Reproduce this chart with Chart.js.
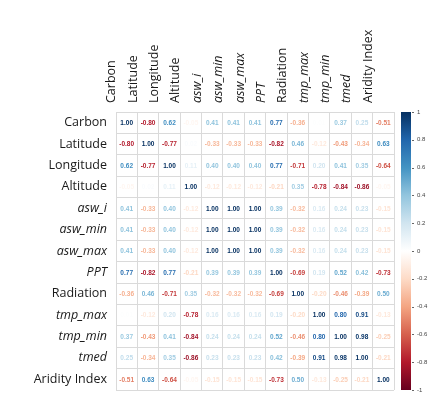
<!DOCTYPE html>
<html>
<head>
<meta charset="utf-8">
<script src="https://cdn.jsdelivr.net/npm/chart.js@4/dist/chart.umd.min.js"></script>
<style>
  body { margin: 0; background: #fff; }
  #wrap { width: 434px; height: 398px; }
</style>
</head>
<body>
<div id="wrap"><canvas id="corrChart" width="434" height="398"></canvas></div>
<script>
// variables (rows and columns of the matrix)
const variables = ['Carbon', 'Latitude', 'Longitude', 'Altitude', 'asw_i', 'asw_min', 'asw_max',
    'PPT', 'Radiation', 'tmp_max', 'tmp_min', 'tmed', 'Aridity Index'];
const italicVars = ['asw_i', 'asw_min', 'asw_max', 'PPT', 'tmp_max', 'tmp_min', 'tmed'];

// correlation rows
const carbon    = [1.00, -0.80, 0.62, -0.05, 0.41, 0.41, 0.41, 0.77, -0.36, 0.01, 0.37, 0.25, -0.51];
const latitude  = [-0.80, 1.00, -0.77, 0.02, -0.33, -0.33, -0.33, -0.82, 0.46, -0.12, -0.43, -0.34, 0.63];
const longitude = [0.62, -0.77, 1.00, 0.11, 0.40, 0.40, 0.40, 0.77, -0.71, 0.20, 0.41, 0.35, -0.64];
const altitude  = [-0.05, 0.02, 0.11, 1.00, -0.12, -0.12, -0.12, -0.21, 0.35, -0.78, -0.84, -0.86, -0.05];
const aswI      = [0.41, -0.33, 0.40, -0.12, 1.00, 1.00, 1.00, 0.39, -0.32, 0.16, 0.24, 0.23, -0.15];
const aswMin    = [0.41, -0.33, 0.40, -0.12, 1.00, 1.00, 1.00, 0.39, -0.32, 0.16, 0.24, 0.23, -0.15];
const aswMax    = [0.41, -0.33, 0.40, -0.12, 1.00, 1.00, 1.00, 0.39, -0.32, 0.16, 0.24, 0.23, -0.15];
const ppt       = [0.77, -0.82, 0.77, -0.21, 0.39, 0.39, 0.39, 1.00, -0.69, 0.19, 0.52, 0.42, -0.73];
const radiation = [-0.36, 0.46, -0.71, 0.35, -0.32, -0.32, -0.32, -0.69, 1.00, -0.20, -0.46, -0.39, 0.50];
const tmpMax    = [0.01, -0.12, 0.20, -0.78, 0.16, 0.16, 0.16, 0.19, -0.20, 1.00, 0.80, 0.91, -0.13];
const tmpMin    = [0.37, -0.43, 0.41, -0.84, 0.24, 0.24, 0.24, 0.52, -0.46, 0.80, 1.00, 0.98, -0.25];
const tmed      = [0.25, -0.34, 0.35, -0.86, 0.23, 0.23, 0.23, 0.42, -0.39, 0.91, 0.98, 1.00, -0.21];
const aridity   = [-0.51, 0.63, -0.64, -0.05, -0.15, -0.15, -0.15, -0.73, 0.50, -0.13, -0.25, -0.21, 1.00];

const matrix = [carbon, latitude, longitude, altitude, aswI, aswMin, aswMax,
    ppt, radiation, tmpMax, tmpMin, tmed, aridity];

// colour bar tick labels
const cbTicks = [1, 0.8, 0.6, 0.4, 0.2, 0, -0.2, -0.4, -0.6, -0.8, -1];

// RdBu palette, -1 .. 1
const palette = ['#67001F', '#B2182B', '#D6604D', '#F4A582', '#FDDBC7', '#FFFFFF',
    '#D1E5F0', '#92C5DE', '#4393C3', '#2166AC', '#053061'];

function hexRgb(h) {
    return [parseInt(h.slice(1, 3), 16), parseInt(h.slice(3, 5), 16), parseInt(h.slice(5, 7), 16)];
}
function colorFor(v) {
    const t = (Math.max(-1, Math.min(1, v)) + 1) / 2 * (palette.length - 1);
    const i = Math.min(Math.floor(t), palette.length - 2);
    const f = t - i;
    const a = hexRgb(palette[i]), b = hexRgb(palette[i + 1]);
    const c = a.map((x, k) => Math.round(x + (b[k] - x) * f));
    return `rgb(${c[0]},${c[1]},${c[2]})`;
}

const points = [];
matrix.forEach((row, i) => {
    row.forEach((v, j) => points.push({ x: variables[j], y: variables[i], v }));
});

const labelFont = ctx => ({
    family: '"Open Sans", sans-serif',
    size: 12.5,
    style: italicVars.includes(variables[ctx.index]) ? 'italic' : 'normal'
});

const cellText = {
    id: 'cellText',
    afterDatasetsDraw(chart) {
        const ctx = chart.ctx;
        const meta = chart.getDatasetMeta(0);
        ctx.save();
        ctx.font = 'bold 6.5px "Liberation Sans", Arial, sans-serif';
        ctx.textAlign = 'center';
        ctx.textBaseline = 'middle';
        meta.data.forEach((pt, k) => {
            const v = points[k].v;
            ctx.fillStyle = colorFor(v);
            ctx.fillText(v.toFixed(2), pt.x, pt.y + 0.5);
        });
        ctx.restore();
    }
};

const colorBar = {
    id: 'colorBar',
    afterDraw(chart) {
        const ctx = chart.ctx;
        const sc = chart.scales.cb;
        const x0 = chart.chartArea.right + 7;
        const top = sc.getPixelForValue(1), bottom = sc.getPixelForValue(-1);
        const grad = ctx.createLinearGradient(0, bottom, 0, top);
        palette.forEach((c, i) => grad.addColorStop(i / (palette.length - 1), c));
        ctx.save();
        ctx.fillStyle = grad;
        ctx.fillRect(x0, top, 10, bottom - top);
        ctx.strokeStyle = '#666';
        ctx.lineWidth = 1;
        cbTicks.forEach(t => {
            const y = Math.round(sc.getPixelForValue(t)) + 0.5;
            ctx.beginPath();
            ctx.moveTo(x0 + 11, y);
            ctx.lineTo(x0 + 13, y);
            ctx.stroke();
        });
        ctx.restore();
    }
};

new Chart(document.getElementById('corrChart').getContext('2d'), {
    type: 'scatter',
    data: {
        datasets: [{
            data: points,
            pointRadius: 0,
            pointHoverRadius: 0
        }]
    },
    options: {
        responsive: false,
        animation: false,
        events: [],
        layout: { padding: { top: 0, left: 0, right: 0, bottom: 8 } },
        plugins: {
            legend: { display: false },
            tooltip: { enabled: false }
        },
        scales: {
            x: {
                type: 'category',
                labels: variables,
                position: 'top',
                offset: true,
                grid: { offset: true, color: '#dadada', drawTicks: false },
                border: { color: '#dadada' },
                ticks: {
                    color: '#1a1a1a',
                    font: labelFont,
                    minRotation: 90,
                    maxRotation: 90,
                    autoSkip: false,
                    padding: 9
                },
                afterFit: s => { s.height = 112; }
            },
            y: {
                type: 'category',
                labels: variables,
                position: 'left',
                offset: true,
                grid: { offset: true, color: '#dadada', drawTicks: true, tickLength: 9, tickColor: 'rgba(0,0,0,0)' },
                border: { color: '#dadada' },
                ticks: {
                    color: '#1a1a1a',
                    font: labelFont,
                    autoSkip: false,
                    padding: 0
                },
                afterFit: s => { s.width = 116; }
            },
            cb: {
                type: 'linear',
                axis: 'y',
                position: 'right',
                min: -1,
                max: 1,
                grid: { drawOnChartArea: false, drawTicks: true, tickLength: 22, tickColor: 'rgba(0,0,0,0)' },
                border: { display: false },
                ticks: {
                    stepSize: 0.2,
                    padding: 1,
                    color: '#444',
                    font: { family: '"Liberation Sans", Arial, sans-serif', size: 6 },
                    callback: v => String(Math.round(v * 10) / 10)
                },
                afterBuildTicks: s => { s.ticks = cbTicks.map(value => ({ value })); },
                afterFit: s => { s.width = 40; }
            }
        }
    },
    plugins: [cellText, colorBar]
});
</script>
</body>
</html>
